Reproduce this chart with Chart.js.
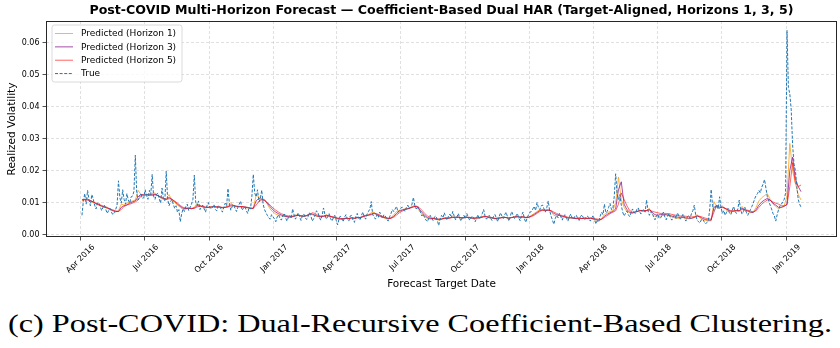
<!DOCTYPE html>
<html><head><meta charset="utf-8">
<script src="https://cdn.jsdelivr.net/npm/chart.js@4.4.1/dist/chart.umd.min.js"></script>
<style>
html,body{margin:0;padding:0;background:#fff;}
#wrap{position:relative;width:840px;height:348px;overflow:hidden;background:#fff;}
#cv{position:absolute;left:0;top:0;}
#cap{position:absolute;left:8px;top:309px;font-family:"Liberation Serif","DejaVu Serif",serif;font-size:26px;line-height:30px;white-space:nowrap;color:#000;transform-origin:0 0;}
</style></head><body>
<div id="wrap"><canvas id="cv" width="840" height="300"></canvas><div id="cap">(c) Post-COVID: Dual-Recursive Coefficient-Based Clustering.</div></div>
<script>
// x positions are days after 2016-04-01; first value on day 2
const startDay = 2;
const trueStepDays = 2;   // true series: one value every 2 days
const predStepDays = 4;   // predicted series: one value every 4 days
const tickDays = [0, 91, 183, 275, 365, 456, 548, 640, 730, 821, 913, 1005];
const tickLabels = ["Apr 2016","Jul 2016","Oct 2016","Jan 2017","Apr 2017","Jul 2017","Oct 2017","Jan 2018","Apr 2018","Jul 2018","Oct 2018","Jan 2019"];
const yTicks = [0, 0.01, 0.02, 0.03, 0.04, 0.05, 0.06];

const trueVol = [
0.0060,0.0105,0.0128,0.0095,0.0138,0.0110,0.0090,0.0125,0.0112,0.0092,0.0080,0.0098,0.0100,0.0088,0.0075,0.0085,0.0092,0.0078,0.0066,0.0075,0.0082,0.0070,0.0062,0.0068,0.0078,0.0092,0.0168,0.0115,0.0098,0.0140,0.0110,0.0095,0.0128,0.0108,0.0098,0.0118,0.0120,0.0135,0.0248,0.0130,0.0108,0.0120,0.0128,0.0112,0.0115,0.0140,
0.0122,0.0110,0.0138,0.0125,0.0188,0.0120,0.0110,0.0125,0.0130,0.0112,0.0098,0.0145,0.0115,0.0105,0.0198,0.0112,0.0090,0.0102,0.0110,0.0095,0.0082,0.0090,0.0070,0.0078,0.0040,0.0065,0.0080,0.0072,0.0088,0.0095,0.0075,0.0085,0.0095,0.0110,0.0186,0.0100,0.0090,0.0105,0.0078,0.0085,0.0092,0.0080,0.0070,0.0090,0.0100,0.0085,
0.0080,0.0085,0.0094,0.0078,0.0074,0.0090,0.0088,0.0080,0.0070,0.0085,0.0098,0.0090,0.0144,0.0095,0.0076,0.0088,0.0092,0.0082,0.0072,0.0085,0.0095,0.0105,0.0076,0.0082,0.0088,0.0075,0.0066,0.0085,0.0080,0.0120,0.0188,0.0130,0.0118,0.0140,0.0102,0.0112,0.0139,0.0095,0.0078,0.0068,0.0060,0.0052,0.0048,0.0062,0.0055,0.0050,
0.0040,0.0055,0.0062,0.0050,0.0045,0.0058,0.0066,0.0052,0.0042,0.0054,0.0060,0.0050,0.0080,0.0062,0.0048,0.0058,0.0068,0.0055,0.0044,0.0060,0.0064,0.0052,0.0047,0.0056,0.0068,0.0058,0.0042,0.0050,0.0062,0.0074,0.0070,0.0054,0.0045,0.0060,0.0083,0.0062,0.0048,0.0056,0.0065,0.0050,0.0042,0.0052,0.0060,0.0045,
0.0030,0.0048,0.0058,0.0050,0.0040,0.0055,0.0062,0.0048,0.0042,0.0058,0.0060,0.0045,0.0038,0.0056,0.0066,0.0052,0.0045,0.0060,0.0070,0.0056,0.0048,0.0064,0.0072,0.0080,0.0103,0.0062,0.0055,0.0048,0.0062,0.0054,0.0070,0.0060,0.0050,0.0062,0.0058,0.0048,0.0042,0.0055,0.0065,0.0078,0.0072,0.0080,0.0088,0.0070,0.0075,0.0082,
0.0086,0.0078,0.0072,0.0085,0.0092,0.0080,0.0085,0.0095,0.0116,0.0090,0.0080,0.0088,0.0082,0.0070,0.0058,0.0064,0.0052,0.0045,0.0040,0.0052,0.0060,0.0050,0.0044,0.0055,0.0058,0.0045,0.0028,0.0048,0.0060,0.0052,0.0068,0.0055,0.0045,0.0058,0.0064,0.0052,0.0072,0.0058,0.0046,0.0055,0.0066,0.0050,0.0042,0.0056,0.0060,0.0050,
0.0066,0.0055,0.0045,0.0052,0.0058,0.0050,0.0040,0.0052,0.0062,0.0048,0.0055,0.0065,0.0078,0.0058,0.0048,0.0054,0.0060,0.0050,0.0044,0.0056,0.0063,0.0052,0.0040,0.0055,0.0068,0.0058,0.0050,0.0062,0.0070,0.0055,0.0042,0.0058,0.0072,0.0060,0.0050,0.0058,0.0066,0.0052,0.0043,0.0060,0.0070,0.0050,0.0038,0.0052,0.0062,0.0070,
0.0072,0.0080,0.0088,0.0075,0.0100,0.0085,0.0078,0.0090,0.0092,0.0080,0.0070,0.0085,0.0105,0.0075,0.0058,0.0045,0.0032,0.0050,0.0060,0.0052,0.0066,0.0055,0.0045,0.0058,0.0062,0.0050,0.0042,0.0055,0.0064,0.0052,0.0048,0.0058,0.0060,0.0050,0.0044,0.0056,0.0062,0.0052,0.0046,0.0055,0.0058,0.0048,0.0042,0.0052,0.0060,0.0045,
0.0033,0.0045,0.0042,0.0058,0.0070,0.0062,0.0095,0.0068,0.0072,0.0085,0.0097,0.0078,0.0080,0.0120,0.0190,0.0130,0.0110,0.0125,0.0092,0.0070,0.0058,0.0066,0.0074,0.0062,0.0056,0.0068,0.0080,0.0070,0.0066,0.0078,0.0084,0.0072,0.0064,0.0075,0.0078,0.0070,0.0108,0.0075,0.0060,0.0072,0.0068,0.0055,0.0046,0.0058,0.0064,0.0050,
0.0052,0.0060,0.0070,0.0055,0.0046,0.0058,0.0066,0.0052,0.0045,0.0056,0.0062,0.0050,0.0068,0.0058,0.0048,0.0055,0.0064,0.0052,0.0042,0.0054,0.0060,0.0050,0.0066,0.0075,0.0092,0.0060,0.0045,0.0040,0.0036,0.0046,0.0048,0.0040,0.0033,0.0038,0.0044,0.0080,0.0141,0.0090,0.0075,0.0082,0.0092,0.0080,0.0118,0.0085,0.0066,0.0075,
0.0060,0.0070,0.0082,0.0068,0.0062,0.0075,0.0088,0.0072,0.0066,0.0080,0.0108,0.0078,0.0064,0.0072,0.0085,0.0070,0.0060,0.0068,0.0078,0.0088,0.0098,0.0112,0.0122,0.0128,0.0138,0.0130,0.0148,0.0158,0.0172,0.0145,0.0118,0.0105,0.0092,0.0080,0.0066,0.0058,0.0042,0.0062,0.0078,0.0090,0.0095,0.0102,0.0110,0.0130,0.0639,0.0460,0.0440,0.0390,0.0280,0.0220,0.0200,0.0150,0.0110,0.0095,0.0085
];

const predH1 = [
0.0105,0.0110,0.0112,0.0105,0.0100,0.0095,0.0092,0.0088,0.0085,0.0082,0.0078,0.0074,0.0070,0.0075,0.0095,0.0092,0.0098,0.0102,0.0105,0.0108,0.0138,0.0125,0.0122,
0.0125,0.0122,0.0128,0.0130,0.0120,0.0115,0.0110,0.0112,0.0125,0.0108,0.0100,0.0092,0.0085,0.0078,0.0080,0.0082,0.0080,0.0085,0.0098,0.0090,0.0085,0.0083,0.0085,
0.0086,0.0088,0.0085,0.0086,0.0083,0.0085,0.0090,0.0100,0.0090,0.0087,0.0086,0.0088,0.0085,0.0083,0.0080,0.0082,0.0123,0.0118,0.0112,0.0110,0.0095,0.0080,0.0070,
0.0064,0.0060,0.0058,0.0056,0.0055,0.0054,0.0056,0.0062,0.0060,0.0057,0.0056,0.0060,0.0066,0.0062,0.0058,0.0056,0.0055,0.0058,0.0062,0.0058,0.0054,0.0052,
0.0048,0.0047,0.0050,0.0052,0.0050,0.0053,0.0050,0.0054,0.0052,0.0058,0.0060,0.0062,0.0068,0.0070,0.0060,0.0056,0.0054,0.0050,0.0048,0.0052,0.0062,0.0072,0.0076,
0.0078,0.0080,0.0082,0.0085,0.0090,0.0088,0.0075,0.0065,0.0056,0.0050,0.0048,0.0050,0.0047,0.0045,0.0048,0.0052,0.0050,0.0052,0.0055,0.0053,0.0054,0.0051,0.0052,
0.0054,0.0052,0.0050,0.0051,0.0052,0.0054,0.0058,0.0055,0.0052,0.0051,0.0049,0.0051,0.0052,0.0055,0.0053,0.0050,0.0054,0.0055,0.0056,0.0053,0.0055,0.0052,0.0054,
0.0060,0.0066,0.0072,0.0078,0.0076,0.0074,0.0078,0.0072,0.0060,0.0058,0.0060,0.0055,0.0054,0.0050,0.0052,0.0051,0.0049,0.0052,0.0050,0.0051,0.0050,0.0052,0.0048,
0.0042,0.0040,0.0050,0.0062,0.0068,0.0072,0.0075,0.0100,0.0180,0.0110,0.0085,0.0072,0.0068,0.0066,0.0070,0.0074,0.0076,0.0073,0.0075,0.0082,0.0065,0.0056,0.0055,
0.0058,0.0060,0.0062,0.0058,0.0055,0.0052,0.0050,0.0052,0.0053,0.0050,0.0049,0.0050,0.0055,0.0062,0.0052,0.0046,0.0044,0.0042,0.0043,0.0103,0.0085,0.0082,0.0090,
0.0080,0.0072,0.0070,0.0074,0.0076,0.0073,0.0088,0.0074,0.0072,0.0068,0.0070,0.0085,0.0105,0.0115,0.0122,0.0128,0.0110,0.0095,0.0088,0.0080,0.0085,0.0090,0.0120,0.0285,0.0200,0.0160,0.0125,0.0108
];

const predH3 = [
0.0108,0.0110,0.0110,0.0106,0.0102,0.0097,0.0093,0.0089,0.0086,0.0083,0.0079,0.0075,0.0072,0.0072,0.0085,0.0090,0.0093,0.0098,0.0102,0.0105,0.0118,0.0126,0.0123,
0.0124,0.0123,0.0124,0.0126,0.0122,0.0117,0.0112,0.0110,0.0116,0.0110,0.0103,0.0095,0.0088,0.0082,0.0081,0.0082,0.0081,0.0083,0.0090,0.0090,0.0087,0.0085,0.0085,
0.0086,0.0087,0.0086,0.0086,0.0084,0.0085,0.0087,0.0093,0.0091,0.0088,0.0087,0.0087,0.0086,0.0084,0.0082,0.0082,0.0105,0.0113,0.0110,0.0108,0.0098,0.0087,0.0077,
0.0070,0.0065,0.0061,0.0058,0.0056,0.0055,0.0056,0.0059,0.0060,0.0058,0.0057,0.0059,0.0064,0.0064,0.0060,0.0057,0.0056,0.0057,0.0060,0.0058,0.0055,0.0053,
0.0050,0.0049,0.0049,0.0051,0.0050,0.0052,0.0051,0.0053,0.0053,0.0056,0.0059,0.0061,0.0064,0.0067,0.0063,0.0058,0.0055,0.0052,0.0050,0.0051,0.0057,0.0066,0.0073,
0.0076,0.0079,0.0081,0.0084,0.0087,0.0088,0.0080,0.0070,0.0060,0.0053,0.0050,0.0050,0.0048,0.0047,0.0048,0.0051,0.0051,0.0052,0.0054,0.0054,0.0054,0.0052,0.0052,
0.0054,0.0053,0.0051,0.0051,0.0052,0.0053,0.0056,0.0056,0.0053,0.0052,0.0050,0.0051,0.0052,0.0054,0.0053,0.0051,0.0053,0.0055,0.0056,0.0054,0.0055,0.0053,0.0054,
0.0058,0.0063,0.0069,0.0075,0.0077,0.0075,0.0076,0.0074,0.0066,0.0062,0.0060,0.0057,0.0055,0.0052,0.0052,0.0051,0.0050,0.0051,0.0050,0.0051,0.0050,0.0051,0.0049,
0.0047,0.0045,0.0048,0.0057,0.0063,0.0068,0.0072,0.0080,0.0140,0.0165,0.0095,0.0078,0.0070,0.0068,0.0070,0.0073,0.0075,0.0074,0.0075,0.0078,0.0070,0.0062,0.0060,
0.0063,0.0062,0.0062,0.0060,0.0058,0.0055,0.0054,0.0054,0.0054,0.0052,0.0051,0.0051,0.0053,0.0058,0.0055,0.0050,0.0047,0.0045,0.0045,0.0085,0.0090,0.0083,0.0086,
0.0082,0.0076,0.0073,0.0073,0.0075,0.0074,0.0082,0.0077,0.0074,0.0070,0.0069,0.0078,0.0092,0.0102,0.0108,0.0113,0.0108,0.0098,0.0092,0.0085,0.0085,0.0088,0.0095,0.0200,0.0242,0.0175,0.0150,0.0134
];

const predH5 = [
0.0110,0.0108,0.0107,0.0105,0.0102,0.0098,0.0095,0.0091,0.0088,0.0085,0.0080,0.0077,0.0074,0.0072,0.0078,0.0088,0.0092,0.0095,0.0098,0.0102,0.0108,0.0120,0.0126,
0.0126,0.0125,0.0123,0.0124,0.0122,0.0118,0.0114,0.0110,0.0112,0.0110,0.0105,0.0098,0.0091,0.0085,0.0083,0.0083,0.0082,0.0082,0.0086,0.0089,0.0088,0.0086,0.0085,
0.0086,0.0087,0.0087,0.0086,0.0085,0.0085,0.0086,0.0089,0.0090,0.0089,0.0088,0.0087,0.0086,0.0085,0.0083,0.0082,0.0092,0.0103,0.0108,0.0106,0.0100,0.0092,0.0083,
0.0076,0.0070,0.0065,0.0062,0.0059,0.0057,0.0057,0.0058,0.0060,0.0059,0.0058,0.0059,0.0062,0.0068,0.0066,0.0060,0.0058,0.0057,0.0058,0.0058,0.0056,0.0054,
0.0052,0.0050,0.0049,0.0050,0.0050,0.0051,0.0051,0.0052,0.0053,0.0055,0.0058,0.0060,0.0062,0.0065,0.0065,0.0061,0.0057,0.0054,0.0051,0.0051,0.0054,0.0061,0.0068,
0.0073,0.0077,0.0080,0.0083,0.0086,0.0089,0.0085,0.0076,0.0066,0.0058,0.0053,0.0051,0.0050,0.0049,0.0049,0.0050,0.0051,0.0052,0.0053,0.0054,0.0054,0.0053,0.0053,
0.0054,0.0054,0.0052,0.0052,0.0052,0.0053,0.0055,0.0056,0.0055,0.0053,0.0051,0.0051,0.0052,0.0053,0.0053,0.0052,0.0053,0.0054,0.0055,0.0055,0.0055,0.0054,0.0054,
0.0056,0.0060,0.0066,0.0072,0.0076,0.0077,0.0076,0.0075,0.0070,0.0066,0.0062,0.0059,0.0057,0.0054,0.0053,0.0052,0.0051,0.0051,0.0050,0.0051,0.0050,0.0051,0.0050,
0.0049,0.0048,0.0048,0.0053,0.0059,0.0065,0.0070,0.0074,0.0095,0.0130,0.0110,0.0090,0.0075,0.0070,0.0071,0.0073,0.0075,0.0075,0.0075,0.0076,0.0073,0.0070,0.0068,
0.0066,0.0066,0.0066,0.0065,0.0063,0.0061,0.0059,0.0058,0.0058,0.0057,0.0056,0.0055,0.0056,0.0058,0.0057,0.0054,0.0051,0.0049,0.0048,0.0070,0.0092,0.0086,0.0084,
0.0082,0.0078,0.0075,0.0074,0.0074,0.0074,0.0078,0.0078,0.0076,0.0073,0.0071,0.0074,0.0085,0.0095,0.0102,0.0108,0.0107,0.0102,0.0098,0.0095,0.0090,0.0090,0.0092,0.0150,0.0225,0.0160,0.0150,0.0155
];

const seriesNames = ["Predicted (Horizon 1)", "Predicted (Horizon 3)", "Predicted (Horizon 5)", "True"];
const seriesColors = ["rgba(255,160,20,0.8)", "rgba(128,0,128,0.7)", "rgba(255,0,0,0.6)", "#1f77b4"];

function toPoints(arr, step){ return arr.map((v,i)=>({x: startDay + i*step, y: v})); }

const fontFam = "'DejaVu Sans', sans-serif";

const frameAndLegend = {
  id: 'frameAndLegend',
  afterDatasetsDraw(chart){
    const {ctx, chartArea: a} = chart;
    ctx.save();
    ctx.strokeStyle = '#262626';
    ctx.lineWidth = 1;
    ctx.strokeRect(Math.round(a.left)+0.5, Math.round(a.top)+0.5, Math.round(a.right-a.left)-1, Math.round(a.bottom-a.top)-1);
    ctx.restore();
  },
  afterDraw(chart){
    const {ctx, chartArea: a} = chart;
    ctx.save();
    const x0 = a.left + 6, y0 = a.top + 4, w = 130, h = 57, r = 2.5;
    ctx.beginPath();
    ctx.moveTo(x0+r, y0); ctx.lineTo(x0+w-r, y0); ctx.quadraticCurveTo(x0+w, y0, x0+w, y0+r);
    ctx.lineTo(x0+w, y0+h-r); ctx.quadraticCurveTo(x0+w, y0+h, x0+w-r, y0+h);
    ctx.lineTo(x0+r, y0+h); ctx.quadraticCurveTo(x0, y0+h, x0, y0+h-r);
    ctx.lineTo(x0, y0+r); ctx.quadraticCurveTo(x0, y0, x0+r, y0);
    ctx.closePath();
    ctx.fillStyle = 'rgba(255,255,255,0.8)';
    ctx.fill();
    ctx.strokeStyle = '#d0d0d0';
    ctx.lineWidth = 0.8;
    ctx.stroke();
    ctx.font = "9px " + fontFam;
    ctx.textBaseline = 'middle';
    ctx.fillStyle = '#000';
    chart.data.datasets.forEach((ds) => {
      const i = seriesNames.indexOf(ds.label);
      const yy = y0 + 8.5 + i*13.35;
      ctx.beginPath();
      ctx.setLineDash(ds.borderDash || []);
      ctx.strokeStyle = ds.borderColor;
      ctx.lineWidth = ds.borderWidth;
      ctx.moveTo(x0+3, yy); ctx.lineTo(x0+21, yy);
      ctx.stroke();
      ctx.setLineDash([]);
      ctx.fillText(ds.label, x0+29, yy+0.5);
    });
    ctx.restore();
  }
};

const datasets = [
  {label: seriesNames[3], data: toPoints(trueVol, trueStepDays), borderColor: seriesColors[3], borderWidth: 1, borderDash: [3,1.6]},
  {label: seriesNames[2], data: toPoints(predH5, predStepDays), borderColor: seriesColors[2], borderWidth: 1},
  {label: seriesNames[1], data: toPoints(predH3, predStepDays), borderColor: seriesColors[1], borderWidth: 1},
  {label: seriesNames[0], data: toPoints(predH1, predStepDays), borderColor: seriesColors[0], borderWidth: 1}
];
datasets.forEach(d => { d.pointRadius = 0; d.fill = false; d.tension = 0; });

new Chart(document.getElementById('cv'), {
  type: 'line',
  data: { datasets },
  plugins: [frameAndLegend],
  options: {
    responsive: false,
    animation: false,
    devicePixelRatio: 1,
    layout: { padding: { left: 0, right: 3, top: 0, bottom: 0 } },
    plugins: {
      legend: { display: false },
      tooltip: { enabled: false },
      title: {
        display: true,
        fullSize: false,
        text: "Post-COVID Multi-Horizon Forecast \u2014 Coefficient-Based Dual HAR (Target-Aligned, Horizons 1, 3, 5)",
        color: '#000',
        font: { family: fontFam, size: 12.6, weight: 'bold', lineHeight: 1.2 },
        padding: { top: 3, bottom: 2.9 }
      }
    },
    scales: {
      x: {
        type: 'linear',
        min: -49.2, max: 1077.2,
        afterFit(s){ s.height = 63; },
        afterBuildTicks(s){ s.ticks = tickDays.map(v => ({value: v})); },
        ticks: {
          autoSkip: false, maxRotation: 45, minRotation: 45,
          color: '#000', font: { family: fontFam, size: 8 }, padding: 2, labelOffset: 13,
          callback(v, i){ return tickLabels[i]; }
        },
        grid: { color: 'rgba(190,190,190,0.6)', lineWidth: 0.8, tickLength: 3.5, tickColor: '#262626', tickWidth: 0.8, tickBorderDash: [] },
        border: { display: false, dash: [3,2] },
        title: { display: true, text: 'Forecast Target Date', color: '#000', font: { family: fontFam, size: 10.5, lineHeight: 1.2 }, padding: { top: 0, bottom: 9.5 } }
      },
      y: {
        type: 'linear',
        min: -0.00078, max: 0.0668,
        afterFit(s){ s.width = 46; },
        afterBuildTicks(s){ s.ticks = yTicks.map(v => ({value: v})); },
        ticks: { color: '#000', font: { family: fontFam, size: 8 }, padding: 3, callback(v){ return v.toFixed(2); } },
        grid: { color: 'rgba(190,190,190,0.6)', lineWidth: 0.8, tickLength: 3.5, tickColor: '#262626', tickWidth: 0.8, tickBorderDash: [] },
        border: { display: false, dash: [3,2] },
        title: { display: true, text: 'Realized Volatility', color: '#000', font: { family: fontFam, size: 10.5, lineHeight: 1.2 }, padding: { top: 6, bottom: 0 } }
      }
    }
  }
});

// fit caption width to the reference span
const cap = document.getElementById('cap');
const cw = cap.getBoundingClientRect().width;
cap.style.transform = 'scaleX(' + (824 / cw).toFixed(4) + ')';
</script>
</body></html>
